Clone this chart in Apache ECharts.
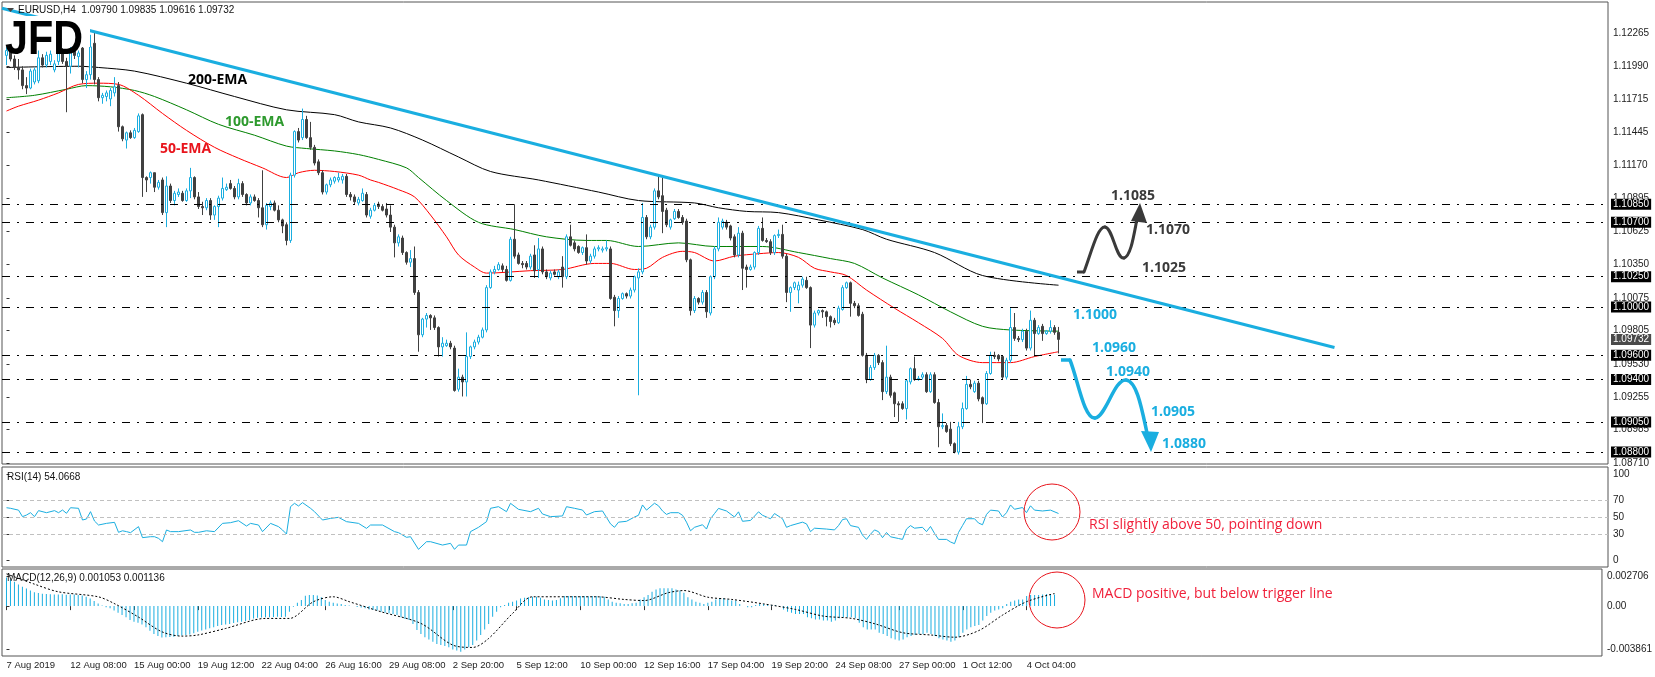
<!DOCTYPE html>
<html><head><meta charset="utf-8">
<style>html,body{margin:0;padding:0;background:#fff}#c{width:1655px;height:677px}</style>
<script src="https://cdn.jsdelivr.net/npm/echarts@6/dist/echarts.min.js"></script>
</head><body><div id="c"></div><script>
// ---------- data ----------
const tickIdx = [0,16,32,48,64,80,96,112,128,144,160,176,192,208,224,240,256];
const tickLabels = ['7 Aug 2019','12 Aug 08:00','15 Aug 00:00','19 Aug 12:00','22 Aug 04:00','26 Aug 16:00','29 Aug 08:00','2 Sep 20:00','5 Sep 12:00','10 Sep 00:00','12 Sep 16:00','17 Sep 04:00','19 Sep 20:00','24 Sep 08:00','27 Sep 00:00','1 Oct 12:00','4 Oct 04:00'];
const priceTicks = [1.12265,1.11990,1.11715,1.11445,1.11170,1.10895,1.10625,1.10350,1.10075,1.09805,1.09530,1.09255,1.08985,1.08710];
const levels = [1.1085,1.1070,1.1025,1.1000,1.0960,1.0940,1.0905,1.0880];
const lastPrice = 1.09732;
const rsiTicks = [0,30,50,70,100];
const rsiLevels = [70,50,30];
const macdTicks = [-0.003861,0,0.002706];
// candles: [open, high, low, close]
const ohlc = [
[1.1208,1.1215,1.1200,1.1212],[1.1212,1.1214,1.1203,1.1205],[1.1205,1.1208,1.1196,1.1198],[1.1198,1.1205,1.1188,1.1196],[1.1196,1.1199,1.1180,1.1183],
[1.1183,1.1190,1.1176,1.1181],[1.1181,1.1197,1.1180,1.1195],[1.1186,1.1198,1.1184,1.1196],[1.1187,1.1212,1.1185,1.1206],[1.1206,1.1209,1.1198,1.1200],
[1.1200,1.1211,1.1198,1.1208],[1.1203,1.1212,1.1200,1.1209],[1.1196,1.1204,1.1194,1.1201],[1.1203,1.1213,1.1200,1.1211],[1.1211,1.1214,1.1201,1.1203],
[1.1203,1.1206,1.1161,1.1199],[1.1199,1.1215,1.1193,1.1212],[1.1212,1.1217,1.1205,1.1208],[1.1207,1.1212,1.1198,1.1210],[1.1214,1.1218,1.1185,1.1188],
[1.1188,1.1195,1.1181,1.1192],[1.1192,1.1225,1.1188,1.1215],[1.1218,1.1227,1.1184,1.1188],[1.1188,1.1190,1.1170,1.1173],[1.1173,1.1177,1.1168,1.1175],
[1.1174,1.1179,1.1170,1.1177],[1.1172,1.1181,1.1166,1.1179],[1.1177,1.1190,1.1174,1.1182],[1.1183,1.1186,1.1145,1.1149],[1.1149,1.1150,1.1137,1.1139],
[1.1138,1.1145,1.1131,1.1144],[1.1144,1.1146,1.1139,1.1140],[1.1140,1.1148,1.1139,1.1146],[1.1145,1.1160,1.1144,1.1158],[1.1159,1.1160,1.1091,1.1107],
[1.1107,1.1108,1.1095,1.1105],[1.1107,1.1112,1.1102,1.1111],[1.1111,1.1111,1.1095,1.1099],[1.1099,1.1105,1.1097,1.1103],[1.1105,1.1107,1.1076,1.1078],
[1.1078,1.1108,1.1066,1.1100],[1.1100,1.1102,1.1086,1.1088],[1.1088,1.1096,1.1084,1.1094],[1.1093,1.1098,1.1091,1.1095],[1.1094,1.1096,1.1087,1.1088],
[1.1088,1.1098,1.1087,1.1096],[1.1096,1.1115,1.1090,1.1107],[1.1107,1.1108,1.1089,1.1091],[1.1091,1.1095,1.1081,1.1083],[1.1083,1.1087,1.1076,1.1082],
[1.1082,1.1090,1.1080,1.1088],[1.1088,1.1090,1.1072,1.1076],[1.1076,1.1084,1.1072,1.1083],[1.1083,1.1092,1.1066,1.1090],[1.1090,1.1107,1.1088,1.1098],
[1.1097,1.1102,1.1096,1.1099],[1.1102,1.1105,1.1097,1.1098],[1.1098,1.1100,1.1089,1.1091],[1.1091,1.1106,1.1089,1.1102],[1.1102,1.1104,1.1091,1.1093],
[1.1093,1.1094,1.1084,1.1086],[1.1086,1.1093,1.1084,1.1091],[1.1091,1.1093,1.1087,1.1088],[1.1088,1.1090,1.1074,1.1082],[1.1082,1.1113,1.1066,1.1068],
[1.1068,1.1086,1.1064,1.1084],[1.1083,1.1088,1.1080,1.1086],[1.1086,1.1088,1.1079,1.1080],[1.1080,1.1084,1.1070,1.1072],[1.1072,1.1073,1.1061,1.1067],
[1.1068,1.1070,1.1051,1.1055],[1.1055,1.1111,1.1053,1.1109],[1.1109,1.1146,1.1107,1.1145],[1.1145,1.1148,1.1136,1.1138],[1.1140,1.1164,1.1138,1.1155],
[1.1155,1.1158,1.1139,1.1140],[1.1140,1.1153,1.1130,1.1132],[1.1132,1.1134,1.1117,1.1119],[1.1120,1.1122,1.1109,1.1111],[1.1111,1.1113,1.1093,1.1095],
[1.1095,1.1102,1.1093,1.1101],[1.1101,1.1107,1.1099,1.1105],[1.1104,1.1108,1.1102,1.1107],[1.1105,1.1111,1.1103,1.1107],[1.1105,1.1110,1.1102,1.1108],
[1.1108,1.1110,1.1091,1.1093],[1.1093,1.1095,1.1088,1.1091],[1.1091,1.1093,1.1085,1.1087],[1.1086,1.1091,1.1084,1.1089],[1.1088,1.1098,1.1087,1.1094],
[1.1093,1.1095,1.1074,1.1076],[1.1075,1.1082,1.1073,1.1080],[1.1080,1.1086,1.1079,1.1084],[1.1085,1.1087,1.1081,1.1083],[1.1083,1.1085,1.1079,1.1080],
[1.1081,1.1086,1.1074,1.1076],[1.1076,1.1084,1.1062,1.1066],[1.1066,1.1068,1.1041,1.1053],[1.1053,1.1060,1.1050,1.1058],[1.1057,1.1059,1.1043,1.1045],
[1.1045,1.1046,1.1035,1.1037],[1.1037,1.1047,1.1033,1.1040],[1.1040,1.1050,1.1010,1.1012],[1.1012,1.1014,1.0963,1.0977],[1.0977,1.0991,1.0975,1.0990],
[1.0990,1.0995,1.0983,1.0993],[1.0993,1.0994,1.0981,1.0991],[1.0991,1.0993,1.0981,1.0983],[1.0983,1.0984,1.0959,1.0967],[1.0967,1.0975,1.0959,1.0970],
[1.0968,1.0973,1.0967,1.0970],[1.0970,1.0972,1.0965,1.0967],[1.0966,1.0968,1.0930,1.0931],[1.0932,1.0949,1.0930,1.0942],[1.0942,1.0944,1.0926,1.0938],
[1.0938,1.0979,1.0926,1.0959],[1.0959,1.0968,1.0957,1.0967],[1.0967,1.0973,1.0965,1.0971],[1.0971,1.0977,1.0969,1.0975],[1.0975,1.0983,1.0974,1.0981],
[1.0981,1.1018,1.0979,1.1016],[1.1016,1.1031,1.1015,1.1029],[1.1029,1.1034,1.1027,1.1031],[1.1031,1.1037,1.1030,1.1035],[1.1034,1.1036,1.1029,1.1031],
[1.1031,1.1034,1.1021,1.1022],[1.1022,1.1058,1.1021,1.1056],[1.1056,1.1085,1.1040,1.1042],[1.1043,1.1045,1.1035,1.1036],[1.1036,1.1038,1.1032,1.1035],
[1.1036,1.1038,1.1031,1.1033],[1.1033,1.1044,1.1031,1.1042],[1.1043,1.1051,1.1024,1.1030],[1.1031,1.1057,1.1024,1.1048],[1.1048,1.1050,1.1027,1.1029],
[1.1029,1.1031,1.1023,1.1025],[1.1024,1.1030,1.1022,1.1028],[1.1029,1.1031,1.1026,1.1027],[1.1025,1.1031,1.1023,1.1029],[1.1033,1.1042,1.1016,1.1025],
[1.1025,1.1060,1.1023,1.1058],[1.1058,1.1068,1.1050,1.1051],[1.1053,1.1055,1.1046,1.1048],[1.1050,1.1051,1.1044,1.1045],[1.1045,1.1050,1.1043,1.1049],
[1.1049,1.1060,1.1035,1.1038],[1.1038,1.1044,1.1036,1.1042],[1.1042,1.1050,1.1040,1.1048],[1.1048,1.1051,1.1046,1.1049],[1.1047,1.1050,1.1045,1.1048],
[1.1048,1.1055,1.1046,1.1049],[1.1048,1.1050,1.1006,1.1007],[1.1008,1.1010,1.0984,1.0997],[1.0997,1.1009,1.0991,1.1007],[1.1007,1.1012,1.1006,1.1011],
[1.1011,1.1012,1.1007,1.1009],[1.1009,1.1016,1.1007,1.1014],[1.1014,1.1026,1.1012,1.1025],[1.1024,1.1032,1.0927,1.1029],[1.1029,1.1086,1.1027,1.1074],
[1.1074,1.1076,1.1056,1.1058],[1.1058,1.1068,1.1056,1.1066],[1.1066,1.1098,1.1064,1.1096],[1.1096,1.1109,1.1089,1.1091],[1.1092,1.1107,1.1061,1.1079],
[1.1080,1.1082,1.1066,1.1068],[1.1066,1.1073,1.1064,1.1072],[1.1073,1.1081,1.1072,1.1079],[1.1079,1.1081,1.1073,1.1074],[1.1074,1.1076,1.1068,1.1070],
[1.1071,1.1073,1.1037,1.1039],[1.1039,1.1040,1.0993,1.0997],[1.0997,1.1009,1.0995,1.1007],[1.1007,1.1008,1.1002,1.1004],[1.1004,1.1014,1.1002,1.1012],
[1.1012,1.1014,1.0991,1.0996],[1.0995,1.1026,1.0993,1.1025],[1.1025,1.1050,1.1023,1.1048],[1.1048,1.1074,1.1046,1.1070],[1.1066,1.1073,1.1064,1.1071],
[1.1070,1.1072,1.1064,1.1066],[1.1067,1.1068,1.1055,1.1057],[1.1058,1.1060,1.1041,1.1043],[1.1043,1.1066,1.1041,1.1061],[1.1061,1.1063,1.1014,1.1032],
[1.1033,1.1035,1.1016,1.1031],[1.1031,1.1035,1.1030,1.1033],[1.1033,1.1046,1.1031,1.1045],[1.1045,1.1067,1.1043,1.1065],[1.1065,1.1074,1.1054,1.1055],
[1.1055,1.1057,1.1053,1.1054],[1.1054,1.1056,1.1043,1.1045],[1.1045,1.1060,1.1043,1.1059],[1.1059,1.1064,1.1057,1.1060],[1.1060,1.1068,1.1040,1.1042],
[1.1042,1.1044,1.1004,1.1012],[1.1012,1.1017,1.0996,1.1016],[1.1016,1.1021,1.1014,1.1020],[1.1014,1.1021,1.1003,1.1018],[1.1018,1.1025,1.1016,1.1023],
[1.1022,1.1025,1.1015,1.1016],[1.1016,1.1017,1.0966,1.0985],[1.0985,1.0997,1.0983,1.0995],[1.0995,1.0998,1.0993,1.0997],[1.0997,1.0998,1.0991,1.0996],
[1.0996,1.0997,1.0984,1.0992],[1.0992,1.0993,1.0983,1.0988],[1.0989,1.0991,1.0985,1.0987],[1.0987,1.1001,1.0986,1.0999],[1.0998,1.1018,1.0997,1.1016],
[1.1016,1.1021,1.1015,1.1020],[1.1020,1.1021,1.0992,1.1003],[1.1003,1.1005,1.0999,1.1001],[1.1001,1.1003,1.0992,1.0993],[1.0994,1.0996,1.0959,1.0960],
[1.0960,1.0962,1.0937,1.0940],[1.0940,1.0952,1.0939,1.0950],[1.0950,1.0962,1.0948,1.0960],[1.0960,1.0961,1.0952,1.0954],[1.0954,1.0956,1.0923,1.0930],
[1.0930,1.0968,1.0928,1.0942],[1.0942,1.0944,1.0925,1.0927],[1.0929,1.0930,1.0909,1.0920],[1.0920,1.0922,1.0905,1.0919],[1.0920,1.0922,1.0915,1.0916],
[1.0916,1.0940,1.0907,1.0939],[1.0938,1.0950,1.0936,1.0949],[1.0949,1.0959,1.0939,1.0940],[1.0940,1.0943,1.0939,1.0941],[1.0942,1.0946,1.0940,1.0944],
[1.0944,1.0946,1.0929,1.0930],[1.0930,1.0946,1.0929,1.0944],[1.0944,1.0946,1.0920,1.0921],[1.0921,1.0924,1.0884,1.0901],[1.0901,1.0912,1.0899,1.0902],
[1.0902,1.0904,1.0896,1.0897],[1.0899,1.0905,1.0885,1.0887],[1.0887,1.0888,1.0879,1.0880],[1.0880,1.0905,1.0878,1.0901],[1.0901,1.0921,1.0899,1.0916],
[1.0916,1.0943,1.0915,1.0936],[1.0936,1.0940,1.0932,1.0934],[1.0930,1.0939,1.0929,1.0937],[1.0937,1.0939,1.0922,1.0924],[1.0925,1.0926,1.0904,1.0920],
[1.0920,1.0947,1.0919,1.0945],[1.0945,1.0963,1.0944,1.0960],[1.0960,1.0963,1.0957,1.0959],[1.0960,1.0961,1.0955,1.0957],[1.0959,1.0960,1.0940,1.0942],
[1.0942,1.0958,1.0940,1.0956],[1.0956,1.0999,1.0954,1.0983],[1.0983,1.0995,1.0972,1.0974],[1.0974,1.0976,1.0971,1.0973],[1.0973,1.0982,1.0971,1.0980],
[1.0980,1.0982,1.0964,1.0966],[1.0966,1.0997,1.0964,1.0989],[1.0989,1.0991,1.0959,1.0978],[1.0978,1.0985,1.0977,1.0983],[1.0984,1.0986,1.0972,1.0978],
[1.0978,1.0981,1.0977,1.0980],[1.0980,1.0989,1.0978,1.0983],[1.0983,1.0985,1.0977,1.0979],[1.09790,1.09835,1.09616,1.09732]
];
// moving averages: [bar, price]
const ema50 = [[0,1.1162],[3,1.1166],[8,1.1171],[13,1.1177],[18,1.1184],[23,1.1185],[28,1.1184],[33,1.1175],[39,1.1160],[45,1.1146],[52,1.1132],[58,1.1123],[64,1.1115],[70,1.1107],[73,1.1111],[77,1.1113],[82,1.1112],[88,1.1109],[91,1.1105],[93,1.1103],[98,1.1097],[102,1.1091],[106,1.1076],[110,1.1058],[113,1.1043],[117,1.1033],[120,1.1028],[131,1.1030],[139,1.1031],[147,1.1036],[151,1.1036],[157,1.1031],[160,1.1032],[164,1.1041],[169,1.1046],[172,1.1045],[177,1.1038],[182,1.1042],[188,1.1044],[193,1.1045],[198,1.1041],[202,1.1032],[206,1.1029],[210,1.1026],[215,1.1014],[222,1.0999],[228,1.0987],[234,1.0974],[238,1.0960],[244,1.0954],[251,1.0954],[257,1.0959],[263,1.0963]];
const ema100 = [[0,1.1173],[7,1.1175],[15,1.1180],[20,1.1183],[26,1.1182],[32,1.1179],[37,1.1174],[45,1.1163],[53,1.1151],[62,1.1142],[70,1.1133],[75,1.1131],[82,1.1129],[88,1.1126],[93,1.1122],[100,1.1115],[103,1.1107],[110,1.1088],[118,1.1070],[127,1.1064],[135,1.1058],[145,1.1055],[150,1.1055],[158,1.1050],[168,1.1053],[177,1.1050],[189,1.1050],[198,1.1045],[206,1.1040],[212,1.1036],[219,1.1024],[228,1.1010],[236,1.0996],[244,1.0984],[251,1.0981],[263,1.0980]];
const ema200 = [[0,1.1198],[18,1.1199],[23,1.1198],[32,1.1195],[45,1.1185],[57,1.1174],[70,1.1163],[82,1.1159],[88,1.1153],[96,1.1148],[104,1.1138],[113,1.1124],[121,1.1112],[133,1.1105],[148,1.1095],[158,1.1088],[172,1.1086],[178,1.1082],[185,1.1079],[193,1.1078],[203,1.1072],[214,1.1064],[220,1.1056],[232,1.1045],[244,1.1026],[263,1.1018]];
const trendLine = [[-1.125,1.12469],[332,1.09665]];
const rsi = [[0,60.8],[1,60.1],[3,58],[4,50.4],[5,52.3],[6,55],[7,50.4],[8,57.4],[10,55],[12,57.4],[13,55],[14,58.1],[15,54.3],[16,60.8],[18,60.1],[19,46.5],[20,47.7],[21,56.2],[22,45.3],[23,40.7],[25,42.6],[27,43.8],[28,32.2],[29,34],[30,33],[31,31.8],[33,38.8],[34,26],[36,27.1],[37,27.1],[38,25.2],[39,21.3],[40,34.9],[41,33],[43,33],[46,34.9],[47,32.2],[48,32.2],[50,34],[52,33],[54,42.6],[56,43.4],[58,45.7],[60,39.5],[61,42.6],[63,40.7],[64,33],[66,42.6],[68,38.8],[69,34.9],[70,30.2],[71,62],[72,65.9],[73,62.8],[74,66.7],[76,60.1],[77,56.2],[79,46.5],[81,48.4],[83,49.6],[85,44.6],[88,42.6],[90,36.8],[91,40.7],[94,40.7],[97,33],[98,31.8],[100,26.4],[101,27.1],[103,12.4],[105,21.3],[106,21.3],[109,17.4],[111,19.4],[112,12.4],[113,17.4],[115,17.4],[116,33],[118,38],[120,44.6],[121,60.1],[123,62],[125,56.2],[126,65.9],[128,58.9],[131,56.2],[133,60.1],[134,53.5],[136,50.4],[139,51.2],[140,62],[142,60.1],[144,58.1],[145,52.3],[147,56.2],[149,57],[151,42],[152,38],[153,44],[155,45],[157,50],[158,52],[159,64],[160,58],[162,66],[163,63],[164,57],[165,53],[166,55],[168,55],[169,52],[170,44],[171,34],[172,38],[174,41],[175,36],[176,48],[177,54],[178,60],[180,57],[182,50],[183,56],[184,45],[186,46],[188,56],[189,52],[191,48],[192,54],[194,48],[195,38],[196,40],[199,44],[200,42],[201,33],[202,37],[205,36],[207,35],[208,40],[209,47],[210,48],[211,40],[213,38],[214,29],[215,24],[216,30],[217,35],[218,33],[219,26],[220,32],[221,27],[223,25],[224,24],[225,36],[226,40],[227,37],[229,38],[230,33],[231,39],[232,31],[233,24],[235,24],[236,21],[237,19],[238,32],[239,40],[240,48],[242,48],[243,43],[244,41],[245,53],[246,58],[248,57],[249,50],[250,55],[251,64],[252,59],[254,61],[255,55],[256,63],[257,58],[259,57],[261,58],[263,54.07]];
const macd = [
0.00258,0.0024,0.00219,0.00195,0.00175,0.00159,0.0014,0.00125,0.00118,0.00112,
0.00108,0.00106,0.00105,0.00104,0.00106,0.00103,0.00105,0.00104,0.001,0.00095,
0.00085,0.00069,0.00045,0.00024,0.00005,-0.0001,-0.0002,-0.0004,-0.0006,-0.00081,
-0.001,-0.00126,-0.0014,-0.0015,-0.00165,-0.0019,-0.00222,-0.0025,-0.0027,-0.00282,
-0.0028,-0.00278,-0.00275,-0.0027,-0.00265,-0.00261,-0.00255,-0.00245,-0.00231,-0.0022,
-0.0021,-0.002,-0.0019,-0.0018,-0.00171,-0.00165,-0.0016,-0.00152,-0.00145,-0.00141,
-0.00135,-0.00125,-0.00111,-0.00105,-0.00103,-0.00101,-0.001,-0.00098,-0.00096,-0.00097,
-0.00096,-0.0005,-0.00006,0.0003,0.00054,0.00093,0.00099,0.001,0.00095,0.0008,
0.00054,0.0004,0.0003,0.00024,0.0002,0.0001,0.00005,0.0,-0.00008,-0.00012,
-0.0002,-0.0003,-0.00035,-0.0004,-0.00051,-0.0006,-0.00065,-0.0007,-0.00081,-0.001,
-0.00115,-0.00126,-0.0016,-0.00216,-0.0025,-0.0028,-0.003,-0.00321,-0.0034,-0.0035,
-0.0036,-0.0037,-0.0039,-0.004,-0.00411,-0.0039,-0.0037,-0.00351,-0.0031,-0.00261,
-0.0021,-0.0016,-0.00096,-0.0005,-0.0001,0.0001,0.0003,0.00039,0.0005,0.00069,
0.00075,0.0008,0.00084,0.00085,0.00075,0.0006,0.00054,0.0005,0.00055,0.0007,
0.0009,0.00092,0.0009,0.00088,0.0009,0.0009,0.00088,0.0009,0.0009,0.00088,
0.00085,0.0006,0.0004,0.0003,0.00025,0.0002,0.0002,0.00025,0.0003,0.0006,
0.0008,0.001,0.0013,0.0015,0.0016,0.0016,0.0016,0.0016,0.0015,0.0014,
0.0012,0.0008,0.0006,0.0004,0.0003,0.0002,0.0003,0.0004,0.0006,0.0007,
0.0007,0.0006,0.0005,0.0005,0.0002,0.0,-0.0001,-0.0001,0.0001,0.0002,
0.0002,0.0001,0.0001,0.0001,0.0,-0.0003,-0.0005,-0.0006,-0.0007,-0.0007,
-0.0007,-0.001,-0.0011,-0.0012,-0.0012,-0.0013,-0.0013,-0.0014,-0.0013,-0.0011,
-0.001,-0.001,-0.001,-0.0011,-0.0015,-0.0019,-0.0021,-0.0021,-0.0021,-0.0024,
-0.0025,-0.0027,-0.0029,-0.003,-0.0031,-0.003,-0.0028,-0.0027,-0.0026,-0.0025,
-0.0025,-0.0024,-0.0025,-0.0027,-0.0029,-0.003,-0.0031,-0.0032,-0.0031,-0.0028,
-0.0024,-0.0021,-0.0019,-0.0018,-0.0017,-0.0013,-0.0009,-0.0006,-0.0004,-0.0003,
-0.0002,0.0002,0.0004,0.0005,0.0006,0.0006,0.0009,0.001,0.001,0.001,
0.00105,0.0011,0.00108,0.001053
];
const macdSignal = [[0,0.0029],[7,0.00198],[13,0.00129],[23,0.00084],[27,0.00024],[33,-0.00096],[39,-0.00231],[44,-0.0027],[48,-0.0026],[55,-0.00201],[65,-0.00111],[71,-0.00111],[77,0.00039],[82,0.00084],[86,0.0004],[94,-0.00051],[104,-0.00156],[112,-0.00351],[117,-0.00372],[121,-0.00291],[127,-0.00066],[132,0.00084],[148,0.00084],[155,0.0006],[160,0.0005],[166,0.0012],[170,0.0014],[176,0.0008],[182,0.0006],[190,0.0002],[198,-0.0003],[205,-0.0009],[212,-0.0011],[218,-0.0016],[225,-0.0024],[232,-0.0026],[238,-0.0028],[244,-0.0022],[250,-0.0008],[256,0.0004],[263,0.001136]];

// ---------- styling ----------
const CY = '#1aaee0';
const AXF = '"Liberation Sans", Arial, sans-serif';
const ANF = '"Open Sans", sans-serif';
const X_MIN = -1.125, X_MAX = 400.375;

function xAxis(gi, labels) {
  return {
    type: 'value', gridIndex: gi, min: X_MIN, max: X_MAX,
    axisLine: { show: false }, splitLine: { show: false },
    axisTick: labels ? { show: true, customValues: tickIdx, length: 4, lineStyle: { color: '#333' } } : { show: false },
    axisLabel: labels ? {
      show: true, customValues: tickIdx, align: 'left', margin: 4,
      formatter: v => tickLabels[tickIdx.indexOf(v)] || '',
      fontSize: 9.5, fontFamily: AXF, color: '#222'
    } : { show: false }
  };
}
function yAxis(gi, min, max, ticks, fmt) {
  return {
    type: 'value', gridIndex: gi, position: 'right', min: min, max: max,
    axisLine: { show: false }, splitLine: { show: false },
    axisTick: { show: true, customValues: ticks, length: 3, lineStyle: { color: '#333' } },
    axisLabel: { customValues: ticks, formatter: fmt, fontSize: 10, fontFamily: AXF, color: '#222', margin: 5 }
  };
}

const gridStyle = { show: true, borderColor: '#555', borderWidth: 1, backgroundColor: 'transparent' };
const lvlLabel = { show: true, position: 'end', distance: 3, formatter: p => Number(p.value).toFixed(5), color: '#fff', backgroundColor: '#000', padding: [1, 2, 0, 2], fontSize: 10, fontFamily: AXF };

const candleData = ohlc.map((d, i) => [i, d[0], d[3], d[2], d[1]]);

function txt(x, y, s, font, fill, extra) {
  return Object.assign({ type: 'text', x: x, y: y, z: 100, silent: true, style: { text: s, font: font, fill: fill, align: 'left', verticalAlign: 'middle' } }, extra || {});
}
function curve(p, color, w) {
  return { type: 'bezierCurve', z: 100, silent: true, shape: { x1: p[0], y1: p[1], cpx1: p[2], cpy1: p[3], cpx2: p[4], cpy2: p[5], x2: p[6], y2: p[7] }, style: { stroke: color, lineWidth: w, fill: 'none', lineCap: 'round' } };
}
const UPC = '#3a3a3a';

const graphics = [
  { type: 'rect', z: 99, silent: true, shape: { x: 4, y: 16, width: 86, height: 31 }, style: { fill: '#fff' } },
  txt(5, 41, 'JFD', 'bold 48px "Liberation Sans", Arial, sans-serif', {
    type: 'linear', x: 0, y: 0, x2: 0, y2: 1,
    colorStops: [{ offset: 0, color: '#2c2f36' }, { offset: 1, color: '#62666e' }]
  }, { scaleX: 0.86 }),
  { type: 'polygon', z: 100, silent: true, shape: { points: [[7, 8], [14, 8], [10.5, 12]] }, style: { fill: '#444' } },
  txt(18, 10.5, 'EURUSD,H4  1.09790 1.09835 1.09616 1.09732', '10px ' + AXF, '#111'),
  txt(7, 477, 'RSI(14) 54.0668', '10px ' + AXF, '#111'),
  txt(7, 578.5, 'MACD(12,26,9) 0.001053 0.001136', '10px ' + AXF, '#111'),
  txt(188, 80, '200-EMA', 'bold 14px ' + ANF, '#000'),
  txt(225, 122, '100-EMA', 'bold 14px ' + ANF, '#2e9a2e'),
  txt(160, 149, '50-EMA', 'bold 14px ' + ANF, '#e8141c'),
  txt(1111, 196, '1.1085', 'bold 14px ' + ANF, UPC),
  txt(1146, 230, '1.1070', 'bold 14px ' + ANF, UPC),
  txt(1142, 268, '1.1025', 'bold 14px ' + ANF, UPC),
  txt(1073, 315, '1.1000', 'bold 14px ' + ANF, CY),
  txt(1092, 348, '1.0960', 'bold 14px ' + ANF, CY),
  txt(1106, 372, '1.0940', 'bold 14px ' + ANF, CY),
  txt(1151, 412, '1.0905', 'bold 14px ' + ANF, CY),
  txt(1162, 444, '1.0880', 'bold 14px ' + ANF, CY),
  // up scenario arrow
  { type: 'line', z: 100, silent: true, shape: { x1: 1077, y1: 272, x2: 1084, y2: 272 }, style: { stroke: UPC, lineWidth: 3 } },
  curve([1084, 272, 1092, 250, 1098, 226, 1105, 227], UPC, 3),
  curve([1105, 227, 1113, 228, 1116, 260, 1124, 258], UPC, 3),
  curve([1124, 258, 1131, 256, 1134, 234, 1137, 219], UPC, 3),
  { type: 'polygon', z: 100, silent: true, shape: { points: [[1140, 203], [1131, 221], [1147, 223]] }, style: { fill: UPC } },
  // down scenario arrow
  { type: 'line', z: 100, silent: true, shape: { x1: 1061, y1: 360, x2: 1070, y2: 360 }, style: { stroke: CY, lineWidth: 3.5 } },
  curve([1070, 360, 1078, 380, 1084, 419, 1095, 418], CY, 3.5),
  curve([1095, 418, 1106, 417, 1114, 379, 1126, 380], CY, 3.5),
  curve([1126, 380, 1137, 381, 1142, 410, 1147, 433], CY, 3.5),
  { type: 'polygon', z: 100, silent: true, shape: { points: [[1151, 452], [1141, 431], [1159, 432]] }, style: { fill: CY } },
  // annotations
  { type: 'circle', z: 100, silent: true, shape: { cx: 1052, cy: 512, r: 28 }, style: { fill: 'none', stroke: '#e8141c', lineWidth: 1 } },
  { type: 'circle', z: 100, silent: true, shape: { cx: 1057, cy: 600, r: 28 }, style: { fill: 'none', stroke: '#e8141c', lineWidth: 1 } },
  txt(1089, 525, 'RSI slightly above 50, pointing down', '14px ' + ANF, '#f0203a'),
  txt(1092, 594, 'MACD positive, but below trigger line', '14px ' + ANF, '#f0203a')
];

const option = {
  animation: false,
  backgroundColor: '#fff',
  grid: [
    Object.assign({ left: 2, top: 2, width: 1606, height: 462 }, gridStyle),
    Object.assign({ left: 2, top: 467, width: 1606, height: 100 }, gridStyle),
    Object.assign({ left: 2, top: 569, width: 1606, height: 87 }, gridStyle)
  ],
  xAxis: [xAxis(0, false), xAxis(1, false), xAxis(2, true)],
  yAxis: [
    yAxis(0, 1.087018, 1.125213, priceTicks, v => v.toFixed(5)),
    yAxis(1, -8.1, 108.1, rsiTicks, v => String(v)),
    yAxis(2, -0.00449, 0.00334, macdTicks, v => v === 0 ? '0.00' : v.toFixed(6))
  ],
  series: [
    {
      type: 'line', name: 'ema200', xAxisIndex: 0, yAxisIndex: 0, data: ema200, showSymbol: false, smooth: 0.3,
      lineStyle: { color: '#000', width: 1 }, z: 3, silent: true
    },
    {
      type: 'line', name: 'ema100', xAxisIndex: 0, yAxisIndex: 0, data: ema100, showSymbol: false, smooth: 0.3,
      lineStyle: { color: '#008000', width: 1 }, z: 3, silent: true
    },
    {
      type: 'line', name: 'ema50', xAxisIndex: 0, yAxisIndex: 0, data: ema50, showSymbol: false, smooth: 0.3,
      lineStyle: { color: '#ff0000', width: 1 }, z: 3, silent: true
    },
    {
      type: 'candlestick', xAxisIndex: 0, yAxisIndex: 0, data: candleData,
      dimensions: ['i', 'open', 'close', 'lowest', 'highest'],
      encode: { x: 0, y: [1, 2, 3, 4] },
      barWidth: 3, z: 4,
      itemStyle: { color: '#fff', color0: '#404040', borderColor: CY, borderColor0: '#404040', borderWidth: 1 }
    },
    {
      type: 'line', name: 'trend', xAxisIndex: 0, yAxisIndex: 0, data: trendLine, showSymbol: false,
      lineStyle: { color: CY, width: 3 }, z: 5, silent: true,
      markLine: {
        silent: true, symbol: ['none', 'none'], animation: false, precision: 5,
        lineStyle: { color: '#000', width: 1, type: [8, 7, 2, 7] },
        label: lvlLabel,
        data: levels.map(v => ({ yAxis: v })).concat([{
          yAxis: lastPrice,
          lineStyle: { color: 'rgba(0,0,0,0)', width: 1 },
          label: Object.assign({}, lvlLabel, { backgroundColor: '#4a4a4a', color: '#fff' })
        }])
      }
    },
    {
      type: 'line', name: 'rsi', xAxisIndex: 1, yAxisIndex: 1, data: rsi, showSymbol: false,
      lineStyle: { color: CY, width: 1 }, z: 3, silent: true,
      markLine: {
        silent: true, symbol: ['none', 'none'], label: { show: false },
        lineStyle: { color: '#c0c0c0', width: 1, type: [4, 3] },
        data: rsiLevels.map(v => ({ yAxis: v }))
      }
    },
    {
      type: 'bar', name: 'macd', xAxisIndex: 2, yAxisIndex: 2, data: macd.map((v, i) => [i, v]),
      barWidth: 1, itemStyle: { color: CY }, silent: true
    },
    {
      type: 'line', name: 'signal', xAxisIndex: 2, yAxisIndex: 2, data: macdSignal, showSymbol: false, smooth: 0.3,
      lineStyle: { color: '#000', width: 1, type: [2, 2] }, z: 4, silent: true
    }
  ],
  graphic: graphics
};

const chart = echarts.init(document.getElementById('c'), null, { renderer: 'canvas' });
chart.setOption(option);
</script></body></html>
